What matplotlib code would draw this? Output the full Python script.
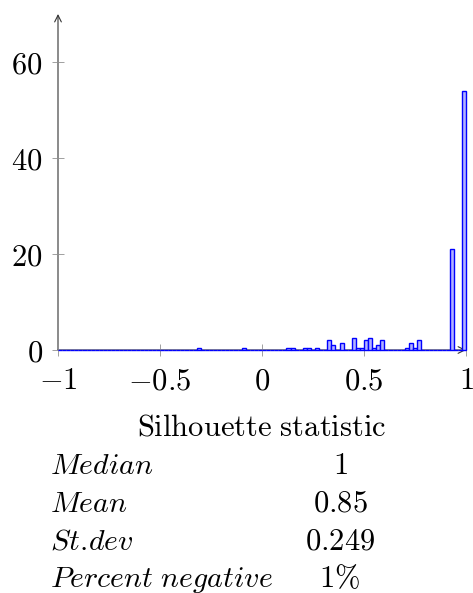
import numpy as np
import matplotlib.pyplot as plt

plt.rcParams['mathtext.fontset'] = 'cm'
plt.rcParams['font.family'] = 'serif'
plt.rcParams['font.serif'] = ['DejaVu Serif']

# histogram of silhouette values, bins of width 0.02 on [-1, 1] (percent of items)
bin_edges = np.linspace(-1, 1, 101)
bin_left = [-0.32, -0.10, 0.12, 0.14, 0.20, 0.22, 0.26, 0.32, 0.34, 0.38,
            0.44, 0.46, 0.48, 0.50, 0.52, 0.54, 0.56, 0.58, 0.70, 0.72,
            0.74, 0.76, 0.92, 0.98]
percent = [0.5, 0.5, 0.5, 0.5, 0.5, 0.5, 0.5, 2, 1, 1.5,
           2.5, 0.5, 0.5, 2, 2.5, 0.5, 1, 2, 0.5, 1.5,
           0.5, 2, 21, 54]

xticks = [-1, -0.5, 0, 0.5, 1]
xtick_labels = [r'$-1$', r'$-0.5$', r'$0$', r'$0.5$', r'$1$']
yticks = [0, 20, 40, 60]

stat_names = [r'$Median$', r'$Mean$', r'$St.\!dev$', r'$Percent\ negative$']
stat_values = [r'$1$', r'$0.85$', r'$0.249$', r'$1\%$']

heights = np.zeros(len(bin_edges) - 1)
idx = np.round((np.array(bin_left) + 1) / 0.02).astype(int)
heights[idx] = percent

W, H = 473, 593
fig = plt.figure(figsize=(W / 100, H / 100), dpi=100)
ax = fig.add_axes([58 / W, 1 - 350 / H, 408 / W, 336 / H])

# axis lines with arrow tips (drawn under the bars)
ax.annotate('', xy=(0, 1), xycoords='axes fraction', xytext=(0, 0),
            arrowprops=dict(arrowstyle='->', lw=0.8, color='#333333',
                            shrinkA=0, shrinkB=0, mutation_scale=12),
            zorder=1)
ax.annotate('', xy=(1, 0), xycoords='axes fraction', xytext=(0, 0),
            arrowprops=dict(arrowstyle='->', lw=0.8, color='#333333',
                            shrinkA=0, shrinkB=0, mutation_scale=12),
            zorder=1)

ax.bar(bin_edges[:-1], heights, width=0.02, align='edge',
       color=(0.7, 0.7, 1.0), edgecolor='blue', linewidth=1.0,
       clip_on=False, zorder=3)

ax.set_xlim(-1, 1)
ax.set_ylim(0, 70)
for s in ['top', 'right', 'bottom', 'left']:
    ax.spines[s].set_visible(False)

ax.set_xticks(xticks)
ax.set_xticklabels(xtick_labels)
ax.set_yticks(yticks)
ax.set_yticklabels([f'${v}$' for v in yticks])
ax.tick_params(direction='inout', length=8, width=0.6, color='#909090',
               labelsize=22, pad=7)

fig.text(262 / W, 1 - 435 / H, r'$\mathrm{Silhouette\ statistic}$',
         ha='center', va='baseline', fontsize=22)

for i, (name, val) in enumerate(zip(stat_names, stat_values)):
    y = 1 - (474 + 37.7 * i) / H
    fig.text(50 / W, y, name, ha='left', va='baseline', fontsize=21.5)
    fig.text(340 / W, y, val, ha='center', va='baseline', fontsize=22)

fig.savefig('out.png', dpi=100)
